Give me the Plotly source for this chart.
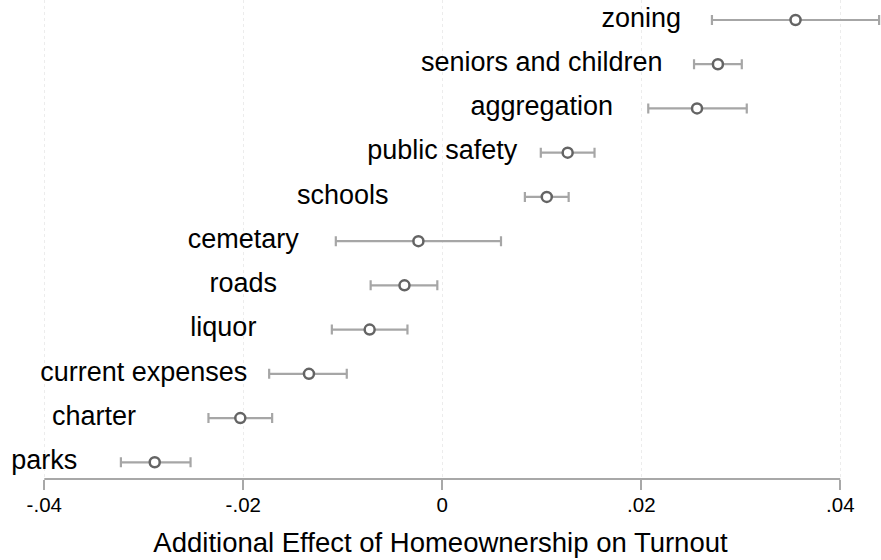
import plotly.graph_objects as go

# Policy areas, listed bottom to top
categories = ["parks", "charter", "current expenses", "liquor", "roads",
              "cemetary", "schools", "public safety", "aggregation",
              "seniors and children", "zoning"]
estimate = [-0.0289, -0.0203, -0.0134, -0.0073, -0.0038,
            -0.0024, 0.0105, 0.0126, 0.0256, 0.0277, 0.0355]
ci_low = [-0.0323, -0.0235, -0.0174, -0.0111, -0.0072,
          -0.0107, 0.0083, 0.0099, 0.0207, 0.0253, 0.0271]
ci_high = [-0.0253, -0.0171, -0.0096, -0.0035, -0.0005,
           0.0059, 0.0127, 0.0153, 0.0306, 0.0301, 0.0439]
# x position at which each category label is centred
label_x = [-0.040, -0.035, -0.030, -0.022, -0.020,
           -0.020, -0.010, 0.000, 0.010, 0.010, 0.020]

tick_vals = [-0.04, -0.02, 0, 0.02, 0.04]
tick_text = ["-.04", "-.02", "0", ".02", ".04"]

rows = list(range(1, len(categories) + 1))
err_plus = [h - e for h, e in zip(ci_high, estimate)]
err_minus = [e - l for e, l in zip(estimate, ci_low)]

FONT = "Liberation Sans, Arial, Helvetica, sans-serif"

fig = go.Figure()
fig.add_trace(go.Scatter(
    x=estimate, y=rows, mode="markers",
    marker=dict(symbol="circle", size=10, color="white",
                line=dict(color="#646464", width=2.5)),
    error_x=dict(type="data", symmetric=False, array=err_plus,
                 arrayminus=err_minus, color="#a6a6a6", thickness=2.2,
                 width=5),
    hoverinfo="skip", showlegend=False,
))

# Category labels
fig.add_trace(go.Scatter(
    x=label_x, y=rows, mode="text", text=categories,
    textposition="middle center",
    textfont=dict(family=FONT, size=27, color="black"),
    hoverinfo="skip", showlegend=False,
))

# Axis line spanning only the labelled range
fig.add_shape(type="line", xref="x", yref="paper",
              x0=tick_vals[0], x1=tick_vals[-1], y0=0, y1=0,
              line=dict(color="#a8a8a8", width=2))

fig.update_layout(
    width=881, height=560,
    margin=dict(l=0, r=0, t=0, b=81),
    plot_bgcolor="white", paper_bgcolor="white",
    font=dict(family=FONT, color="black"),
    xaxis=dict(
        range=[-0.04445, 0.04409],
        tickvals=tick_vals, ticktext=tick_text,
        tickfont=dict(size=20.5, color="black"),
        ticks="outside", ticklen=10, tickwidth=2, tickcolor="#a8a8a8",
        ticklabelstandoff=-3,
        showline=False, zeroline=False,
        showgrid=True, gridcolor="#ececec", griddash="dot", gridwidth=1,
        title=dict(text="Additional Effect of Homeownership on Turnout",
                   font=dict(size=27.5, color="black"), standoff=18),
    ),
    yaxis=dict(range=[0.622, 11.452], visible=False, showgrid=False,
               zeroline=False),
)

fig.write_html("out.html")
